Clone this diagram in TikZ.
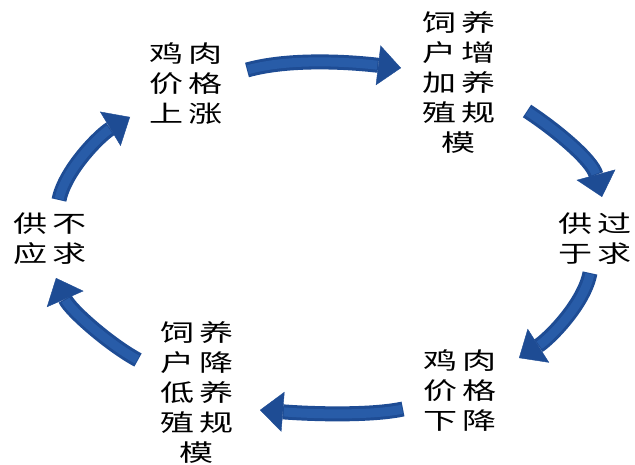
\documentclass[tikz,border=0pt]{standalone}
\usepackage{fontspec}
\newfontfamily\cjk[FakeStretch=1.45]{Noto Sans CJK SC}
\usetikzlibrary{arrows.meta}
\definecolor{arrowblue}{RGB}{30,76,148}
\definecolor{arrowhi}{RGB}{40,92,168}
\newcommand{\cg}{\hspace{5pt}}
\tikzset{
  txt/.style={inner sep=0pt, align=center, font=\cjk\fontsize{23.5pt}{30pt}\selectfont, text=black},
  bigarrow/.style={draw=arrowblue, line width=15pt,
    -{Triangle[length=23pt,width=40pt,line width=0.4pt]}},
  arrowshine/.style={draw=arrowhi, line width=9pt, shorten >=24pt, shorten <=1pt}
}
\begin{document}
\begin{tikzpicture}[x=1pt,y=-1pt]
\useasboundingbox[fill=white] (0,0) rectangle (635,465);
% text nodes
\node[txt] (up)   at (186.5,84)  {鸡\cg 肉\\价\cg 格\\上\cg 涨};
\node[txt] (grow) at (459,82.5)  {饲\cg 养\\户\cg 增\\加\cg 养\\殖\cg 规\\模};
\node[txt] (over) at (595,238.5) {供\cg 过\\于\cg 求};
\node[txt] (down) at (460,391)   {鸡\cg 肉\\价\cg 格\\下\cg 降};
\node[txt] (cut)  at (197,392.5) {饲\cg 养\\户\cg 降\\低\cg 养\\殖\cg 规\\模};
\node[txt] (short) at (50,238.5) {供\cg 不\\应\cg 求};
% arrow end points
\coordinate (a1s) at (247,70);  \coordinate (a1e) at (401,68);
\coordinate (a2s) at (527,111); \coordinate (a2e) at (602,197);
\coordinate (a3s) at (590,273); \coordinate (a3e) at (519,358);
\coordinate (a4s) at (403,409); \coordinate (a4e) at (260,410);
\coordinate (a5s) at (138,360); \coordinate (a5e) at (56,278);
\coordinate (a6s) at (59,200);  \coordinate (a6e) at (130,117);
% arrows
\draw[bigarrow] (a1s) .. controls (290,58) and (350,62) .. (a1e);
\draw[bigarrow] (a2s) .. controls (556,130) and (592,160) .. (a2e);
\draw[bigarrow] (a3s) .. controls (584,304) and (549,339) .. (a3e);
\draw[bigarrow] (a4s) .. controls (370,416) and (310,414) .. (a4e);
\draw[bigarrow] (a5s) .. controls (110,345) and (70,310) .. (a5e);
\draw[bigarrow] (a6s) .. controls (65,170) and (100,135) .. (a6e);
% highlights
\draw[arrowshine] (a1s) .. controls (290,58) and (350,62) .. (a1e);
\draw[arrowshine] (a2s) .. controls (556,130) and (592,160) .. (a2e);
\draw[arrowshine] (a3s) .. controls (584,304) and (549,339) .. (a3e);
\draw[arrowshine] (a4s) .. controls (370,416) and (310,414) .. (a4e);
\draw[arrowshine] (a5s) .. controls (110,345) and (70,310) .. (a5e);
\draw[arrowshine] (a6s) .. controls (65,170) and (100,135) .. (a6e);
\end{tikzpicture}
\end{document}
